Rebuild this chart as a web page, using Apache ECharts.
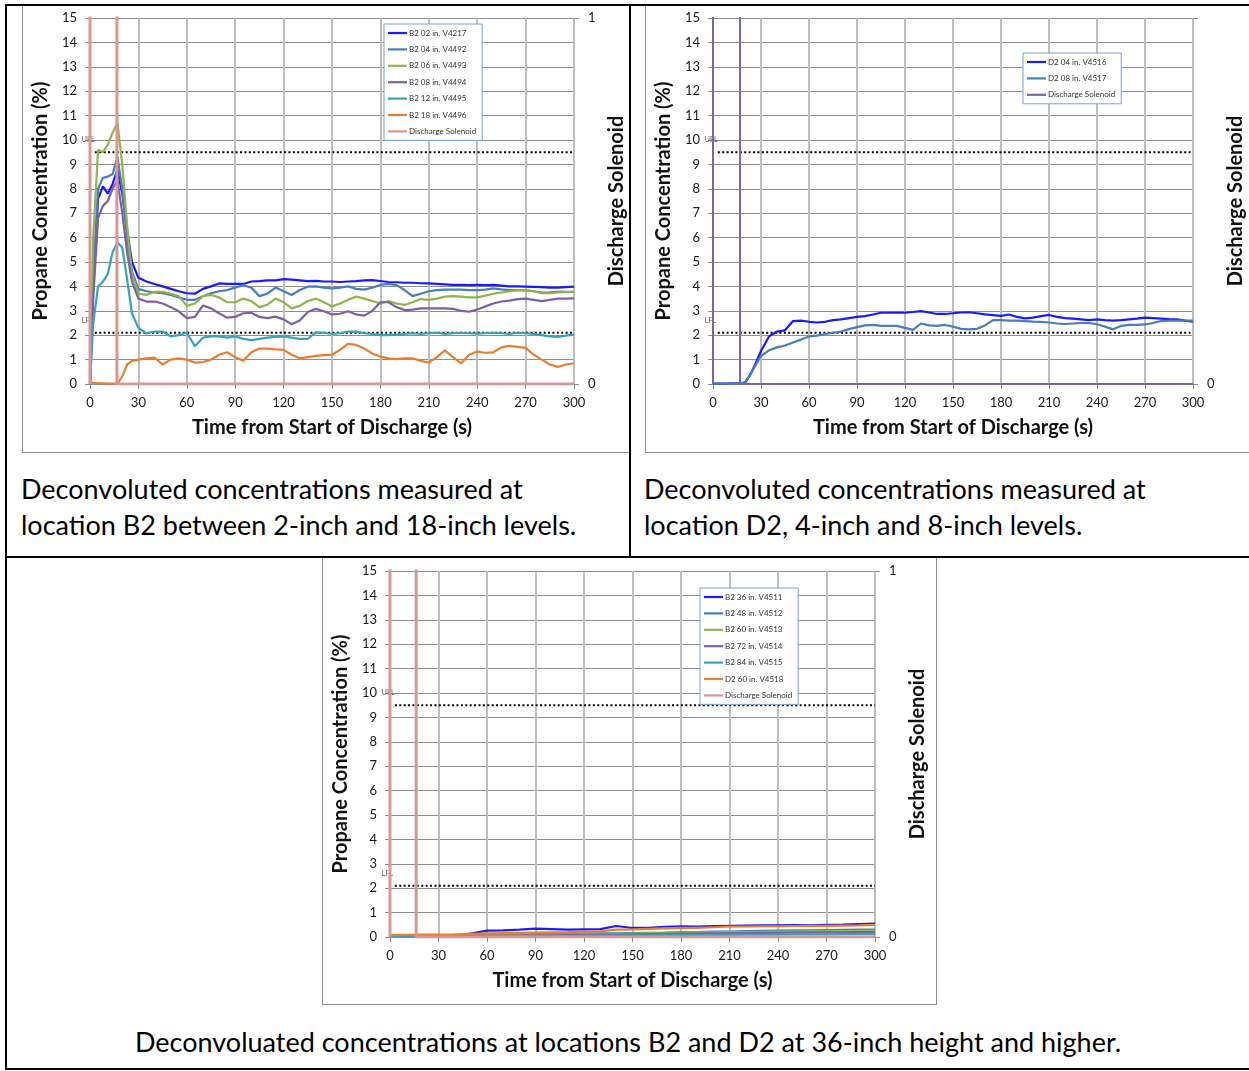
<!DOCTYPE html>
<html><head><meta charset="utf-8">
<script src="https://cdn.jsdelivr.net/npm/echarts@6/dist/echarts.min.js"></script>
<style>
html,body{margin:0;padding:0;background:#fff;}
body{width:1249px;height:1071px;overflow:hidden;position:relative;font-family:Lato,"Open Sans",sans-serif;}
.ln{position:absolute;background:#000;}
.frame{position:absolute;border:1px solid #8f8f8f;box-sizing:border-box;}
.chart{position:absolute;}
.cap{position:absolute;font-size:27px;line-height:36px;color:#000;white-space:nowrap;font-family:Lato,sans-serif;}
</style></head><body>
<div class="frame" style="left:22px;top:4px;width:609px;height:449px;"></div>
<div class="frame" style="left:645px;top:4px;width:610px;height:449px;"></div>
<div class="frame" style="left:322px;top:557px;width:615px;height:448px;"></div>
<div class="chart" id="c1" style="left:22px;top:6px;width:608px;height:446px;"></div>
<div class="chart" id="c2" style="left:645px;top:6px;width:604px;height:446px;"></div>
<div class="chart" id="c3" style="left:322px;top:558px;width:614px;height:446px;"></div>
<div class="ln" style="left:5px;top:4px;width:1244px;height:2px;"></div>
<div class="ln" style="left:5px;top:4px;width:2px;height:1066px;"></div>
<div class="ln" style="left:629px;top:4px;width:2px;height:554px;"></div>
<div class="ln" style="left:5px;top:556px;width:1244px;height:2px;"></div>
<div class="ln" style="left:5px;top:1068px;width:1244px;height:2px;"></div>
<div class="cap" style="left:21px;top:471px;">Deconvoluted concentrations measured at<br>location B2 between 2-inch and 18-inch levels.</div>
<div class="cap" style="left:644px;top:471px;">Deconvoluted concentrations measured at<br>location D2, 4-inch and 8-inch levels.</div>
<div class="cap" style="left:7px;width:1242px;text-align:center;top:1024px;">Deconvoluated concentrations at locations B2 and D2 at 36-inch height and higher.</div>
<script>
// ---------- data ----------
const T = [0,2,5,8,11,14,17,20,23,26,
  30,35,40,45,50,55,60,65,70,75,
  80,85,90,95,100,105,110,115,120,125,
  130,135,140,145,150,155,160,165,170,175,
  180,185,190,195,200,205,210,215,220,225,
  230,235,240,245,250,255,260,265,270,275,
  280,285,290,295,300];

const B2_02 = [0,4.0,7.6,8.1,7.8,8.2,8.8,7.8,6.3,5.0,
  4.35,4.2,4.1,4.0,3.9,3.8,3.72,3.7,3.9,4.0,
  4.12,4.1,4.1,4.1,4.2,4.22,4.25,4.25,4.3,4.28,
  4.25,4.22,4.23,4.2,4.2,4.18,4.2,4.22,4.25,4.26,
  4.22,4.18,4.17,4.15,4.15,4.13,4.12,4.1,4.08,4.06,
  4.06,4.05,4.06,4.05,4.06,4.03,4.0,4.0,3.99,3.98,
  3.97,3.95,3.95,3.97,3.99];
const B2_04 = [0,4.5,8.0,8.45,8.5,8.6,9.3,8.0,6.0,4.6,
  3.9,3.8,3.75,3.72,3.65,3.55,3.45,3.45,3.6,3.72,
  3.8,3.85,3.95,4.05,3.95,3.6,3.7,3.95,3.8,3.65,
  3.85,3.99,4.0,3.95,3.92,3.95,4.0,3.9,3.87,3.95,
  4.06,4.1,4.05,3.85,3.6,3.7,3.8,3.85,3.87,3.87,
  3.87,3.85,3.85,3.87,3.92,3.88,3.85,3.85,3.84,3.8,
  3.75,3.76,3.78,3.78,3.78];
const B2_06 = [0,6.0,9.6,9.5,9.8,10.3,10.7,9.0,6.5,4.5,
  3.7,3.65,3.78,3.78,3.7,3.6,3.2,3.3,3.6,3.65,
  3.55,3.35,3.35,3.5,3.4,3.15,3.25,3.5,3.35,3.1,
  3.2,3.4,3.5,3.35,3.18,3.3,3.45,3.58,3.5,3.4,
  3.3,3.4,3.3,3.24,3.35,3.48,3.45,3.5,3.58,3.6,
  3.58,3.55,3.55,3.62,3.7,3.75,3.8,3.85,3.85,3.8,
  3.72,3.72,3.75,3.77,3.78];
const B2_08 = [0,3.5,6.8,7.3,7.5,8.0,8.35,7.0,5.4,4.2,
  3.5,3.38,3.38,3.3,3.15,2.98,2.7,2.75,3.22,3.1,
  2.9,2.72,2.75,2.9,2.92,2.75,2.7,2.76,2.65,2.45,
  2.6,2.95,3.08,2.98,2.85,2.88,2.98,2.85,2.8,3.0,
  3.35,3.35,3.15,3.03,3.05,3.1,3.1,3.1,3.1,3.08,
  3.0,2.96,3.05,3.18,3.3,3.38,3.42,3.48,3.5,3.45,
  3.4,3.45,3.5,3.5,3.51];
const B2_12 = [0,2.5,4.0,4.2,4.5,5.4,5.8,5.6,4.3,2.9,
  2.3,2.07,2.15,2.15,1.95,2.0,2.1,1.55,1.9,1.95,
  1.95,1.9,1.95,1.85,1.8,1.85,1.9,1.93,1.95,1.9,
  1.85,1.85,2.12,2.1,2.05,2.08,2.15,2.15,2.08,2.05,
  2.0,2.0,2.02,2.05,2.08,2.05,2.08,2.1,2.05,2.08,
  2.1,2.08,2.06,2.08,2.1,2.08,2.05,2.1,2.08,2.05,
  2.0,1.95,1.93,1.98,2.02];
const B2_18 = [0.05,0.05,0.03,0.03,0.02,0.02,0.02,0.3,0.8,0.95,
  1.0,1.05,1.08,0.8,1.0,1.05,1.0,0.88,0.9,1.0,
  1.2,1.3,1.1,0.95,1.3,1.45,1.45,1.42,1.4,1.2,
  1.05,1.1,1.15,1.18,1.2,1.4,1.65,1.6,1.45,1.25,
  1.12,1.05,1.02,1.05,1.05,0.95,0.88,1.1,1.38,1.1,
  0.85,1.2,1.33,1.28,1.3,1.5,1.56,1.52,1.48,1.2,
  1.0,0.8,0.7,0.8,0.85];

const D2_04 = [0.02,0.02,0.02,0.02,0.03,0.03,0.03,0.05,0.35,0.75,
  1.35,1.95,2.15,2.2,2.58,2.6,2.55,2.52,2.55,2.62,
  2.65,2.7,2.75,2.78,2.85,2.92,2.92,2.92,2.92,2.95,
  2.99,2.93,2.87,2.87,2.9,2.93,2.94,2.9,2.85,2.82,
  2.79,2.85,2.75,2.69,2.72,2.78,2.83,2.75,2.7,2.68,
  2.65,2.62,2.65,2.62,2.6,2.62,2.65,2.68,2.72,2.7,
  2.68,2.66,2.65,2.6,2.55];
const D2_08 = [0.02,0.02,0.02,0.02,0.02,0.02,0.03,0.08,0.35,0.7,
  1.15,1.38,1.5,1.58,1.7,1.82,1.95,1.98,2.05,2.1,
  2.15,2.25,2.33,2.4,2.42,2.38,2.38,2.38,2.3,2.22,
  2.48,2.4,2.38,2.42,2.35,2.26,2.24,2.26,2.4,2.62,
  2.62,2.6,2.6,2.58,2.56,2.55,2.52,2.48,2.46,2.48,
  2.5,2.5,2.45,2.35,2.24,2.38,2.42,2.42,2.44,2.5,
  2.58,2.6,2.6,2.6,2.6];

const T3 = [0,10,20,30,40,50,60,70,80,90,
  100,110,120,130,140,150,160,170,180,190,
  200,210,220,230,240,250,260,270,280,290,300];
const B2_36 = [0.05,0.05,0.06,0.06,0.07,0.14,0.26,0.27,0.3,0.34,
  0.32,0.3,0.31,0.32,0.45,0.37,0.38,0.42,0.44,0.43,
  0.45,0.46,0.47,0.48,0.48,0.49,0.48,0.5,0.51,0.53,0.55];
const B2_48 = [0.04,0.04,0.05,0.05,0.06,0.07,0.08,0.09,0.1,0.11,
  0.12,0.13,0.14,0.15,0.15,0.16,0.17,0.18,0.2,0.2,
  0.22,0.22,0.24,0.25,0.26,0.27,0.27,0.28,0.29,0.3,0.3];
const B2_60 = [0.03,0.04,0.04,0.05,0.05,0.06,0.07,0.08,0.08,0.09,
  0.1,0.1,0.12,0.12,0.13,0.14,0.15,0.16,0.18,0.18,
  0.19,0.2,0.2,0.21,0.22,0.22,0.23,0.24,0.24,0.25,0.25];
const B2_72 = [0.03,0.03,0.03,0.04,0.04,0.05,0.05,0.06,0.06,0.07,
  0.07,0.08,0.09,0.1,0.1,0.11,0.12,0.13,0.14,0.14,
  0.15,0.15,0.16,0.17,0.17,0.18,0.18,0.19,0.19,0.2,0.2];
const B2_84 = [0.02,0.02,0.02,0.02,0.03,0.03,0.03,0.04,0.04,0.04,
  0.05,0.05,0.06,0.06,0.06,0.07,0.07,0.08,0.08,0.08,
  0.09,0.09,0.1,0.1,0.1,0.11,0.11,0.11,0.12,0.12,0.12];
const D2_60 = [0.08,0.09,0.1,0.1,0.11,0.13,0.15,0.16,0.17,0.18,
  0.19,0.2,0.22,0.23,0.3,0.31,0.33,0.35,0.37,0.37,
  0.4,0.43,0.43,0.44,0.44,0.45,0.46,0.46,0.47,0.48,0.5];

// Discharge solenoid (secondary axis; "on" level sits just above the axis top)
const SOL_V = [0,1.03,1.03,0,0];
const SOL_T1 = [0,0,16.7,16.7,300];
const SOL_T2 = [0,0,16.9,16.9,300];
const SOL_T3 = [0,0,16.2,16.2,300];

// flammability limits
const LIMIT_T = [3,300];
const UFL = 9.5;
const LFL = 2.1;

const X_TICKS = {min:0, max:300, interval:30};
const Y_TICKS = {min:0, max:15, interval:1};

// ---------- drawing ----------
const C = {blue:'#1a1aff', steel:'#4a7ebb', green:'#8eb44a', purple:'#7d60a3', teal:'#35a3bd', orange:'#eb7d2e', pink:'#d99694', solPurple:'#7c62a6'};
const FONT = 'Lato';

function pairs(ts, vs){ return ts.map((t,i)=>[t, vs[i]]); }

function build(id, cfg){
  const el = document.getElementById(id);
  const chart = echarts.init(el, null, {renderer:'canvas'});
  const series = [];
  cfg.lines.forEach(s => {
    series.push({name:s.name, type:'line', data:pairs(s.t, s.v), symbol:'none', showSymbol:false,
      lineStyle:{color:s.color, width:2.2}, itemStyle:{color:s.color}, z:3, animation:false});
  });
  series.push({name:'Discharge Solenoid', type:'line', yAxisIndex:1, data:pairs(cfg.solT, SOL_V),
    symbol:'none', showSymbol:false, lineStyle:{color:cfg.solColor, width:cfg.solWidth}, itemStyle:{color:cfg.solColor}, z:4, animation:false});
  [[UFL,'UFL'],[LFL,'LFL']].forEach(([lv, lab]) => {
    series.push({name:lab, type:'line', symbol:'circle', symbolSize:0, showSymbol:true, silent:true,
      data:[{value:[LIMIT_T[0], lv], label:{show:true, formatter:lab, position:[-13,-16], align:'left', verticalAlign:'top', fontSize:7, color:'#555', fontFamily:FONT}},
            {value:[LIMIT_T[1], lv]}],
      lineStyle:{color:'#000', width:2, type:[2,2.4]}, itemStyle:{color:'#000'}, z:2, animation:false});
  });
  const legendNames = cfg.lines.map(s=>s.name).concat(['Discharge Solenoid']);
  const axisNameStyle = {fontFamily:FONT, fontSize:20, fontWeight:'bold', color:'#111'};
  const labelStyle = {fontFamily:FONT, fontSize:13, color:'#1a1a1a'};
  chart.setOption({
    animation:false,
    backgroundColor:'transparent',
    grid:{left:cfg.grid[0], top:cfg.grid[1], right:cfg.grid[2], bottom:cfg.grid[3], containLabel:false, outerBoundsMode:'none'},
    legend:{data:legendNames, orient:'vertical', left:cfg.legend[0], top:cfg.legend[1], icon:'rect', itemWidth:19, itemHeight:2.2, itemGap:6.4,
      padding:[4,6,4,4], borderColor:'#7b9fd3', borderWidth:1, backgroundColor:'#fff', selectedMode:false,
      textStyle:{fontFamily:FONT, fontSize:8, lineHeight:10, color:'#333', padding:[0,0,0,-3]}},
    xAxis:{type:'value', min:X_TICKS.min, max:X_TICKS.max, interval:X_TICKS.interval,
      name:'Time from Start of Discharge (s)', nameLocation:'middle', nameGap:34, nameTextStyle:axisNameStyle,
      axisLine:{show:true, onZero:false, lineStyle:{color:'#8c8c8c', width:1}},
      axisTick:{show:true, length:5, lineStyle:{color:'#8c8c8c'}},
      axisLabel:Object.assign({margin:12}, labelStyle),
      splitLine:{show:true, lineStyle:{color:'#bdbdbd', width:2}}},
    yAxis:[
      {type:'value', min:Y_TICKS.min, max:Y_TICKS.max, interval:Y_TICKS.interval, position:'left',
       name:'Propane Concentration (%)', nameLocation:'middle', nameGap:cfg.leftGap, nameRotate:90, nameTextStyle:axisNameStyle,
       axisLine:{show:true, lineStyle:{color:'#8c8c8c'}},
       axisTick:{show:true, length:5, lineStyle:{color:'#8c8c8c'}},
       axisLabel:Object.assign({margin:13}, labelStyle),
       splitLine:{show:true, lineStyle:{color:'#8e8e8e', width:1}}},
      {type:'value', min:0, max:1, interval:1, position:'right',
       name:'Discharge Solenoid', nameLocation:'middle', nameGap:cfg.rightGap, nameRotate:90, nameTextStyle:axisNameStyle,
       axisLine:{show:false},
       axisTick:{show:true, length:5, lineStyle:{color:'#8c8c8c'}},
       axisLabel:Object.assign({margin:14, formatter:v => (cfg.hideOne && v===1) ? '' : String(v)}, labelStyle),
       splitLine:{show:false}}
    ],
    series:series
  });
}

build('c1', {
  grid:[68,12,56,68], legend:[362,18], leftGap:33, rightGap:27, solColor:C.pink, solWidth:3, solT:SOL_T1, hideOne:false,
  lines:[
    {name:'B2 02 in. V4217', t:T, v:B2_02, color:C.blue},
    {name:'B2 04 in. V4492', t:T, v:B2_04, color:C.steel},
    {name:'B2 06 in. V4493', t:T, v:B2_06, color:C.green},
    {name:'B2 08 in. V4494', t:T, v:B2_08, color:C.purple},
    {name:'B2 12 in. V4495', t:T, v:B2_12, color:C.teal},
    {name:'B2 18 in. V4496', t:T, v:B2_18, color:C.orange}
  ]
});
build('c2', {
  grid:[68,12,56,68], legend:[378,47], leftGap:33, rightGap:33, solColor:C.solPurple, solWidth:2, solT:SOL_T2, hideOne:true,
  lines:[
    {name:'D2 04 in. V4516', t:T, v:D2_04, color:C.blue},
    {name:'D2 08 in. V4517', t:T, v:D2_08, color:C.steel}
  ]
});
build('c3', {
  grid:[68,13,61,67], legend:[378,30], leftGap:33, rightGap:27, solColor:C.pink, solWidth:3, solT:SOL_T3, hideOne:false,
  lines:[
    {name:'B2 36 in. V4511', t:T3, v:B2_36, color:C.blue},
    {name:'B2 48 in. V4512', t:T3, v:B2_48, color:C.steel},
    {name:'B2 60 in. V4513', t:T3, v:B2_60, color:C.green},
    {name:'B2 72 in. V4514', t:T3, v:B2_72, color:C.purple},
    {name:'B2 84 in. V4515', t:T3, v:B2_84, color:C.teal},
    {name:'D2 60 in. V4518', t:T3, v:D2_60, color:C.orange}
  ]
});
</script>
</body></html>
